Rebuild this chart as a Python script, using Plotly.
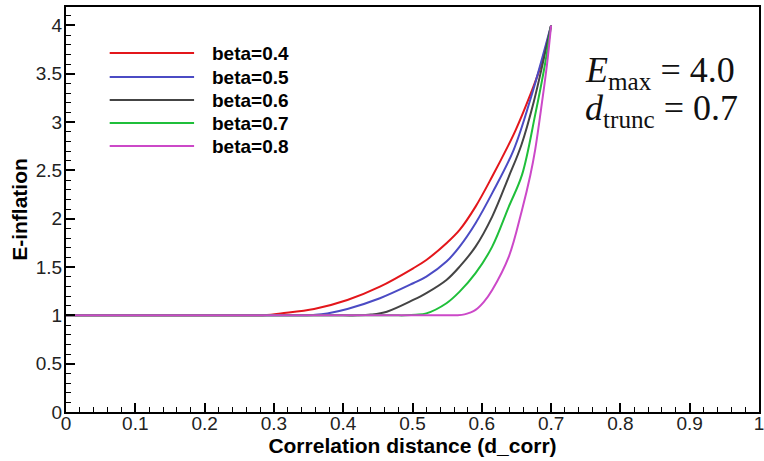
import plotly.graph_objects as go

# ---- data ----
series_names = ["beta=0.4", "beta=0.5", "beta=0.6", "beta=0.7", "beta=0.8"]
series_colors = ["#e3161b", "#4b4bc4", "#444444", "#1fbf3a", "#cc48c8"]

x_b04 = [0.0, 0.25, 0.27, 0.29, 0.31, 0.358, 0.406, 0.453, 0.501, 0.52, 0.549, 0.568, 0.591, 0.615, 0.637, 0.649, 0.668, 0.684, 0.7]
y_b04 = [1.0, 1.0, 1.0, 1.003, 1.02, 1.066, 1.159, 1.297, 1.487, 1.573, 1.746, 1.884, 2.125, 2.436, 2.74, 2.919, 3.247, 3.558, 4.0]

x_b05 = [0.0, 0.32, 0.34, 0.36, 0.377, 0.406, 0.453, 0.501, 0.52, 0.549, 0.568, 0.591, 0.615, 0.646, 0.672, 0.7]
y_b05 = [1.0, 1.0, 1.0, 1.005, 1.02, 1.066, 1.177, 1.332, 1.40, 1.556, 1.711, 1.953, 2.264, 2.712, 3.28, 4.0]

x_b06 = [0.0, 0.40, 0.42, 0.44, 0.463, 0.501, 0.52, 0.549, 0.568, 0.591, 0.615, 0.639, 0.657, 0.675, 0.7]
y_b06 = [1.0, 1.0, 1.0, 1.008, 1.038, 1.159, 1.23, 1.366, 1.504, 1.711, 2.022, 2.436, 2.76, 3.21, 4.0]

x_b07 = [0.0, 0.47, 0.49, 0.505, 0.52, 0.549, 0.568, 0.591, 0.615, 0.639, 0.658, 0.677, 0.691, 0.7]
y_b07 = [1.0, 1.0, 1.0, 1.006, 1.02, 1.125, 1.245, 1.436, 1.711, 2.125, 2.453, 3.074, 3.59, 4.0]

x_b08 = [0.0, 0.54, 0.555, 0.565, 0.575, 0.583, 0.591, 0.603, 0.615, 0.639, 0.658, 0.67, 0.677, 0.687, 0.694, 0.7]
y_b08 = [1.0, 1.0, 1.0, 1.002, 1.01, 1.028, 1.056, 1.14, 1.263, 1.608, 2.091, 2.45, 2.712, 3.21, 3.59, 4.0]

xs = [x_b04, x_b05, x_b06, x_b07, x_b08]
ys = [y_b04, y_b05, y_b06, y_b07, y_b08]

x_ticks = [0, 0.1, 0.2, 0.3, 0.4, 0.5, 0.6, 0.7, 0.8, 0.9, 1]
y_ticks = [0, 0.5, 1, 1.5, 2, 2.5, 3, 3.5, 4]

# ---- figure ----
W, H = 764, 461
ML, MR, MT, MB = 66, 0, 7, 49
PW, PH = W - ML - MR, H - MT - MB

def px(xp):
    return (xp - ML) / PW

def py(yp):
    return (H - MB - yp) / PH

fig = go.Figure()
for xv, yv, name, col in zip(xs, ys, series_names, series_colors):
    fig.add_trace(go.Scatter(x=xv, y=yv, mode="lines", name=name,
                             line=dict(color=col, width=2, shape="spline", smoothing=1.0),
                             showlegend=False))

shapes = []
annotations = []
row_y = [53, 77, 100, 123, 146]
for name, col, ry in zip(series_names, series_colors, row_y):
    shapes.append(dict(type="line", xref="paper", yref="paper",
                       x0=px(110), x1=px(195), y0=py(ry), y1=py(ry),
                       line=dict(color=col, width=2)))
    annotations.append(dict(xref="paper", yref="paper", x=px(211), y=py(ry),
                            xanchor="left", yanchor="middle", showarrow=False,
                            text="<b>%s</b>" % name,
                            font=dict(family="Liberation Sans, Arial", size=19, color="black")))

annotations.append(dict(xref="paper", yref="paper", x=px(587), y=py(72),
                        xanchor="left", yanchor="middle", showarrow=False,
                        text="<i>E</i><sub>max</sub> = 4.0",
                        font=dict(family="Liberation Serif, DejaVu Serif", size=36, color="#111")))
annotations.append(dict(xref="paper", yref="paper", x=px(587), y=py(111),
                        xanchor="left", yanchor="middle", showarrow=False,
                        text="<i>d</i><sub>trunc</sub> = 0.7",
                        font=dict(family="Liberation Serif, DejaVu Serif", size=36, color="#111")))

axis_common = dict(showgrid=False, zeroline=False, showline=True, linecolor="black",
                   linewidth=2, mirror=True, ticks="inside", tickcolor="black",
                   tickwidth=1.5, ticklen=9,
                   tickfont=dict(family="Liberation Sans, Arial", size=19, color="#222"))

fig.update_layout(
    width=W, height=H,
    margin=dict(l=ML, r=MR, t=MT, b=MB),
    paper_bgcolor="white", plot_bgcolor="white",
    shapes=shapes, annotations=annotations,
    xaxis=dict(range=[0, 1], tickvals=x_ticks, ticktext=[str(v) for v in x_ticks],
               ticklabeloverflow="allow", ticklabelstandoff=-7,
               minor=dict(dtick=0.02, ticks="inside", ticklen=5, tickcolor="black", tickwidth=1),
               title=dict(text="<b>Correlation distance (d_corr)</b>", standoff=2,
                          font=dict(family="Liberation Sans, Arial", size=21, color="black")),
               **axis_common),
    yaxis=dict(range=[0, 4.19], tickvals=y_ticks, ticktext=[("%g" % v) for v in y_ticks],
               ticklabelstandoff=-2,
               minor=dict(dtick=0.1, ticks="inside", ticklen=5, tickcolor="black", tickwidth=1),
               title=dict(text="<b>E-inflation</b>", standoff=2,
                          font=dict(family="Liberation Sans, Arial", size=21, color="black")),
               **axis_common),
)

fig.write_html("out.html")
